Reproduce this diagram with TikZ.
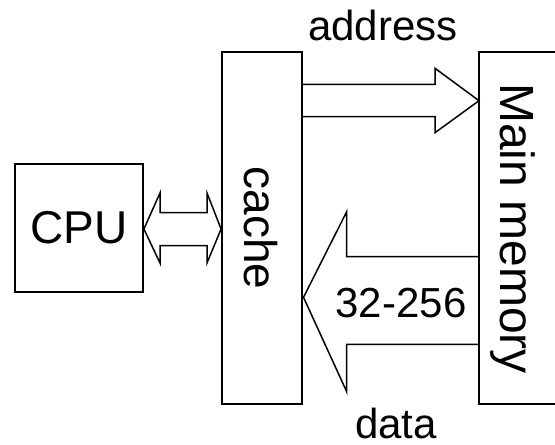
\documentclass[tikz,border=0pt]{standalone}
\usepackage{fontspec}
\setmainfont{Liberation Sans}
\begin{document}
\begin{tikzpicture}[x=1pt,y=-1pt,
  box/.style={draw=black,line width=1.8pt,inner sep=0pt,fill=none},
  big/.style={font=\fontsize{46}{50}\selectfont},
  mid/.style={font=\fontsize{42}{46}\selectfont},
  bus/.style={draw=black,line width=1.5pt,line join=miter}]
\useasboundingbox (0,0) rectangle (555,445);
% boxes
\node[box,minimum width=128pt,minimum height=128pt] (cpu) at (79,228) {};
\node[box,minimum width=80pt,minimum height=352pt] (cache) at (262,228) {};
\coordinate (memtl) at (479,52);
\coordinate (membl) at (479,404);
\draw[line width=1.8pt] (562,52) -- (memtl) -- (membl) -- (562,404);
% labels
\node[big] (cpulbl) at (cpu.center) {CPU};
\node[big,rotate=-90] (cachelbl) at (261,228) {cache};
\node[big,rotate=-90,font=\fontsize{48}{52}\selectfont] (memlbl) at (513,228.5) {Main memory};
\node[mid,anchor=base,inner sep=0pt] (addr) at (383,40.5) {address};
\node[mid,anchor=base,inner sep=0pt] (data) at (396,438.5) {data};
% CPU <-> cache double arrow
\draw[bus] (cpu.east |- 0,229) -- (160,193) -- (160,212.7) -- (207,212.7) -- (207,193)
  -- (cache.west |- 0,229) -- (207,263) -- (207,245.7) -- (160,245.7) -- (160,263) -- cycle;
% address arrow cache -> memory
\draw[bus] (cache.east |- 0,84.3) -- (435,84.3) -- (435,68.3) -- (memtl |- 0,100.7)
  -- (435,132.7) -- (435,116.7) -- (cache.east |- 0,116.7);
% data arrow memory -> cache
\draw[bus] (memtl |- 0,256.7) -- (346.7,256.7) -- (346.7,211.7) -- (303.5,297.3)
  -- (346.7,391.7) -- (346.7,344.3) -- (memtl |- 0,344.3);
\node[mid] (width) at (401,303) {32-256};
\end{tikzpicture}
\end{document}
